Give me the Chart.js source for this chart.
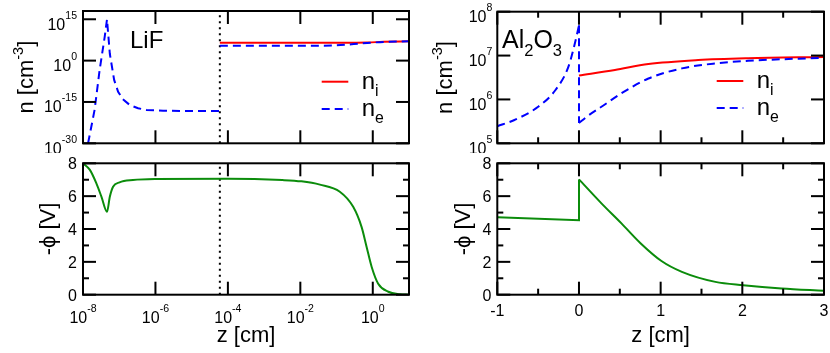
<!DOCTYPE html>
<html>
<head>
<meta charset="utf-8">
<script src="https://cdn.jsdelivr.net/npm/chart.js@4/dist/chart.umd.min.js"></script>
<style>
html, body { margin: 0; padding: 0; background: #fff; }
#wrap { position: relative; width: 830px; height: 353px; }
canvas { position: absolute; }
.over { pointer-events: none; z-index: 2; }
</style>
</head>
<body>
<div id="wrap">
  <canvas id="lifN" width="415" height="153" style="left:0;top:0"></canvas>
  <canvas id="aloN" width="415" height="153" style="left:415px;top:0"></canvas>
  <canvas id="lifPhi" width="415" height="200" style="left:0;top:153px"></canvas>
  <canvas id="aloPhi" width="415" height="200" style="left:415px;top:153px"></canvas>
  <canvas id="lifNFrame" class="over" width="415" height="153" style="left:0;top:0"></canvas>
  <canvas id="aloNFrame" class="over" width="415" height="153" style="left:415px;top:0"></canvas>
  <canvas id="lifPhiFrame" class="over" width="415" height="200" style="left:0;top:153px"></canvas>
  <canvas id="aloPhiFrame" class="over" width="415" height="200" style="left:415px;top:153px"></canvas>
</div>
<script>
// ---- LiF (log z axis, cm) ----
const lifZTicks = [1e-8, 1e-6, 1e-4, 1e-2, 1];
const lifNTicks = [1e-30, 1e-15, 1, 1e15];
const lifInterface = 6e-5;

const lifNeLeftZ = [1.38e-8, 2.09e-8, 2.88e-8, 3.98e-8, 4.6e-8, 5.5e-8, 7.24e-8, 9.33e-8, 1.26e-7, 1.95e-7, 3.31e-7, 5.62e-7, 1.62e-6, 6e-5];
const lifNeLeft  = [1e-30, 1.3e-18, 4e-4, 5e8, 1e15, 3e2, 1e-7, 5e-12, 1e-14, 8e-17, 5e-18, 1.3e-18, 6e-19, 5e-19];
const lifNeRightZ = [6e-5, 0.03, 0.08, 0.3, 0.7, 2, 10];
const lifNeRight  = [2.6e5, 2.6e5, 3e5, 1e6, 2.5e6, 6e6, 1e7];
const lifNiZ = [6e-5, 0.2, 0.7, 2, 10];
const lifNi  = [3.2e6, 3.2e6, 4e6, 6.3e6, 1e7];

const lifPhiZ = [1e-8, 1.55e-8, 2.34e-8, 3.24e-8, 4.6e-8, 5.5e-8, 6.76e-8, 1.02e-7, 2.4e-7, 1e-6, 1e-4, 3.16e-3, 1.07e-2, 3.47e-2, 0.123, 0.288, 0.49, 0.676, 0.933, 1.41, 2.69, 5.62, 10];
const lifPhi  = [8.0, 7.6, 6.78, 5.96, 5.05, 5.96, 6.57, 6.84, 6.98, 7.04, 7.06, 6.98, 6.9, 6.7, 6.27, 5.35, 4.13, 2.91, 1.69, 0.67, 0.18, 0.03, 0.0];

// ---- Al2O3 (linear z axis, cm) ----
const aloZTicks = [-1, 0, 1, 2, 3];
const aloZMinor = [-0.5, 0.5, 1.5, 2.5];
const aloNTicks = [1e5, 1e6, 1e7, 1e8];

const aloNeLeftZ = [-1, -0.79, -0.5, -0.29, -0.13, -0.05, 0];
const aloNeLeft  = [2.45e5, 3.4e5, 6.8e5, 1.62e6, 5.5e6, 1.9e7, 4.9e7];
const aloNeRightZ = [0, 0.1, 0.275, 0.52, 0.85, 1.26, 1.66, 2.07, 3];
const aloNeRight  = [2.9e5, 4.1e5, 6.8e5, 1.38e6, 3.0e6, 5.1e6, 6.6e6, 7.6e6, 8.9e6];
const aloNiZ = [0, 0.44, 0.85, 1.46, 2.07, 3];
const aloNi  = [3.5e6, 4.7e6, 6.4e6, 7.9e6, 8.7e6, 9.3e6];

const aloPhiLeftZ = [-1, 0, 0];
const aloPhiLeft  = [4.71, 4.54, 7.02];
const aloPhiRightZ = [0, 0.275, 0.52, 0.75, 1.01, 1.26, 1.67, 2.01, 2.48, 3];
const aloPhiRight  = [7.02, 5.56, 4.34, 3.15, 2.05, 1.39, 0.78, 0.58, 0.38, 0.24];

// ---- potential axis ----
const phiTicks = [0, 2, 4, 6, 8];
const phiMinor = [1, 3, 5, 7];

const FONT = '"Liberation Sans", Arial, Helvetica, sans-serif';
const RED = '#ff0000';
const BLUE = '#0000ff';
const GREEN = '#0b8c0b';

function font(size) {
    return size + 'px ' + FONT;
}

function pts(xs, ys) {
    return xs.map((x, i) => ({ x: x, y: ys[i] }));
}

// text runs with optional super/subscript pieces: [{t: 'n'}, {t: 'i', s: 'sub'}]
function runsWidth(g, runs, size) {
    let w = 0;
    runs.forEach(r => {
        g.font = font(r.s ? size * 0.66 : size);
        w += g.measureText(r.t).width;
    });
    return w;
}

function drawRuns(g, runs, x, y, size, align, rise) {
    const w = runsWidth(g, runs, size);
    let cx = align === 'center' ? x - w / 2 : (align === 'right' ? x - w : x);
    g.textAlign = 'left';
    g.textBaseline = 'alphabetic';
    runs.forEach(r => {
        const fs = r.s ? size * 0.66 : size;
        let dy = 0;
        if (r.s === 'sup') dy = -size * (rise || 0.45);
        if (r.s === 'sub') dy = size * 0.3;
        g.font = font(fs);
        g.fillText(r.t, cx, y + dy);
        cx += g.measureText(r.t).width;
    });
}

function logLabel(v) {
    return [{ t: '10' }, { t: String(Math.round(Math.log10(v))), s: 'sup' }];
}

// plot box and inward ticks, drawn on an overlay canvas from the chart's scales
function drawFrame(chart, spec, overlayId) {
    const g = document.getElementById(overlayId).getContext('2d');
    const a = chart.chartArea;
    const xs = chart.scales.x;
    const ys = chart.scales.y;
    g.fillStyle = '#000';
    const xt = (vals, len) => vals.forEach(v => {
        const p = xs.getPixelForValue(v);
        g.fillRect(p - 1, a.bottom - len, 2, len);
        g.fillRect(p - 1, a.top, 2, len);
    });
    const yt = (vals, len) => vals.forEach(v => {
        const p = ys.getPixelForValue(v);
        g.fillRect(a.left, p - 1, len, 2);
        g.fillRect(a.right - len, p - 1, len, 2);
    });
    xt(spec.xTicks, 13);
    xt(spec.xMinor || [], 6);
    yt(spec.yTicks, 13);
    yt(spec.yMinor || [], 6);
    g.strokeStyle = '#000';
    g.lineWidth = 2;
    g.strokeRect(a.left, a.top, a.right - a.left, a.bottom - a.top);
}

// tick labels, titles and legend
function decoPlugin(spec) {
    return {
        id: 'deco',
        afterDraw(chart) {
            const g = chart.ctx;
            const a = chart.chartArea;
            const xs = chart.scales.x;
            const ys = chart.scales.y;
            g.save();
            g.fillStyle = '#000';

            if (spec.xLabels) {
                spec.xTicks.forEach(v => {
                    const p = xs.getPixelForValue(v);
                    if (spec.xLog) {
                        drawRuns(g, logLabel(v), p, a.bottom + 28, 16, 'center', 0.69);
                    } else {
                        drawRuns(g, [{ t: String(v) }], p, a.bottom + 21, 16, 'center');
                    }
                });
            }
            spec.yTicks.forEach(v => {
                const p = ys.getPixelForValue(v);
                if (spec.yLog) {
                    drawRuns(g, logLabel(v), a.left - spec.yLabelGap, p + 10.5, 16, 'right', 0.69);
                } else {
                    drawRuns(g, [{ t: String(v) }], a.left - spec.yLabelGap, p + 5.8, 16, 'right');
                }
            });

            // axis titles
            if (spec.xTitle) {
                drawRuns(g, spec.xTitle, (a.left + a.right) / 2, a.bottom + 47, 22, 'center');
            }
            g.save();
            g.translate(a.left - spec.yTitleGap, (a.top + a.bottom) / 2);
            g.rotate(-Math.PI / 2);
            drawRuns(g, spec.yTitle, 0, 0, 22, 'center', 0.45);
            g.restore();

            // material label
            if (spec.label) {
                drawRuns(g, spec.label.runs, spec.label.x, spec.label.y, spec.label.size, 'left');
            }

            // legend
            (spec.legend || []).forEach(item => {
                g.beginPath();
                g.strokeStyle = item.color;
                g.lineWidth = 2;
                g.setLineDash(item.dash || []);
                g.moveTo(item.x0, item.y);
                g.lineTo(item.x1, item.y);
                g.stroke();
                g.setLineDash([]);
                g.fillStyle = '#000';
                drawRuns(g, item.runs, item.tx, item.y + 7, 24, 'left');
            });
            g.restore();
        }
    };
}

function makePanel(id, datasets, scales, padding, spec) {
    const el = document.getElementById(id);
    const chart = new Chart(el, {
        type: 'scatter',
        data: { datasets: datasets },
        options: {
            responsive: false,
            animation: false,
            devicePixelRatio: 1,
            layout: { padding: padding },
            scales: {
                x: Object.assign({ display: false }, scales.x),
                y: Object.assign({ display: false }, scales.y)
            },
            plugins: { legend: { display: false }, tooltip: { enabled: false } }
        },
        plugins: [decoPlugin(spec)]
    });
    drawFrame(chart, spec, id + 'Frame');
}

function curve(data, color, dash, smooth) {
    return {
        data: data,
        showLine: true,
        borderColor: color,
        backgroundColor: color,
        borderWidth: 2,
        borderDash: dash || [],
        cubicInterpolationMode: smooth ? 'monotone' : 'default',
        tension: 0,
        pointRadius: 0,
        fill: false
    };
}

const nTitle = [{ t: 'n [cm' }, { t: '-3', s: 'sup' }, { t: ']' }];
const phiTitle = [{ t: '-\u03D5 [V]' }];
const zTitle = [{ t: 'z [cm]' }];
const DASH = [8, 5];
const DOTS = [2, 4];

// LiF densities
makePanel('lifN', [
    curve(pts(lifNeLeftZ, lifNeLeft), BLUE, DASH),
    curve(pts(lifNeRightZ, lifNeRight), BLUE, DASH, true),
    curve(pts(lifNiZ, lifNi), RED, null, true),
    curve(pts([lifInterface, lifInterface], [lifNTicks[0], 1e18]), '#000', DOTS)
], {
    x: { type: 'logarithmic', min: 1e-8, max: 10 },
    y: { type: 'logarithmic', min: 1e-30, max: 1e18 }
}, { left: 83, top: 11, right: 6, bottom: 9.7 }, {
    xLog: true, yLog: true, xLabels: false,
    xTicks: lifZTicks, yTicks: lifNTicks,
    yLabelGap: 6, yTitleGap: 50,
    yTitle: nTitle,
    label: { runs: [{ t: 'LiF' }], x: 130, y: 48.3, size: 24 },
    legend: [
        { color: RED, x0: 321.7, x1: 348.3, tx: 361.7, y: 81.7, runs: [{ t: 'n' }, { t: 'i', s: 'sub' }] },
        { color: BLUE, dash: DASH, x0: 321.7, x1: 348.3, tx: 361.7, y: 109, runs: [{ t: 'n' }, { t: 'e', s: 'sub' }] }
    ]
});

// Al2O3 densities
makePanel('aloN', [
    curve(pts(aloNeLeftZ, aloNeLeft), BLUE, DASH, true),
    curve(pts([0, 0], [aloNeLeft[aloNeLeft.length - 1], aloNeRight[0]]), BLUE, DASH),
    curve(pts(aloNeRightZ, aloNeRight), BLUE, DASH, true),
    curve(pts(aloNiZ, aloNi), RED, null, true)
], {
    x: { type: 'linear', min: -1, max: 3 },
    y: { type: 'logarithmic', min: 1e5, max: 1e8 }
}, { left: 82.3, top: 11.7, right: 6, bottom: 9.7 }, {
    xLog: false, yLog: true, xLabels: false,
    xTicks: aloZTicks, xMinor: aloZMinor, yTicks: aloNTicks,
    yLabelGap: 5, yTitleGap: 45,
    yTitle: nTitle,
    label: { runs: [{ t: 'Al' }, { t: '2', s: 'sub' }, { t: 'O' }, { t: '3', s: 'sub' }], x: 87, y: 48.3, size: 25 },
    legend: [
        { color: RED, x0: 301.7, x1: 328.3, tx: 341.7, y: 81, runs: [{ t: 'n' }, { t: 'i', s: 'sub' }] },
        { color: BLUE, dash: DASH, x0: 301.7, x1: 328.3, tx: 341.7, y: 108, runs: [{ t: 'n' }, { t: 'e', s: 'sub' }] }
    ]
});

// LiF potential
makePanel('lifPhi', [
    curve(pts(lifPhiZ, lifPhi), GREEN, null, true),
    curve(pts([lifInterface, lifInterface], [0, 8]), '#000', DOTS)
], {
    x: { type: 'logarithmic', min: 1e-8, max: 10 },
    y: { type: 'linear', min: 0, max: 8 }
}, { left: 83, top: 10.3, right: 6, bottom: 58.3 }, {
    xLog: true, yLog: false, xLabels: true,
    xTicks: lifZTicks, yTicks: phiTicks, yMinor: phiMinor,
    yLabelGap: 6, yTitleGap: 28,
    xTitle: zTitle, yTitle: phiTitle
});

// Al2O3 potential
makePanel('aloPhi', [
    curve(pts(aloPhiLeftZ, aloPhiLeft), GREEN),
    curve(pts(aloPhiRightZ, aloPhiRight), GREEN, null, true)
], {
    x: { type: 'linear', min: -1, max: 3 },
    y: { type: 'linear', min: 0, max: 8 }
}, { left: 82.3, top: 10.3, right: 6, bottom: 58.3 }, {
    xLog: false, yLog: false, xLabels: true,
    xTicks: aloZTicks, xMinor: aloZMinor, yTicks: phiTicks, yMinor: phiMinor,
    yLabelGap: 6, yTitleGap: 27,
    xTitle: zTitle, yTitle: phiTitle
});
</script>
</body>
</html>
